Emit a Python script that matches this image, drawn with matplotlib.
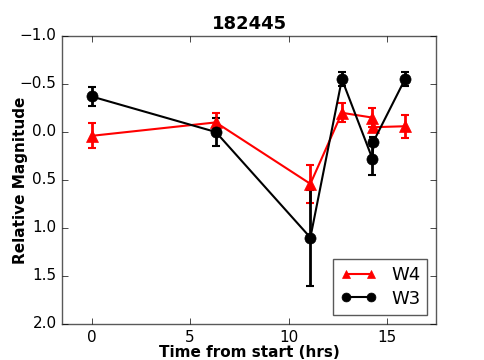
import matplotlib
matplotlib.use("Agg")
import matplotlib.pyplot as plt

plt.style.use("classic")

# W3 band (black circles)
w3_t = [0.0, 6.3, 11.1, 12.7, 14.25, 14.3, 15.9]
w3_mag = [-0.37, 0.0, 1.1, -0.55, 0.28, 0.1, -0.55]
w3_err = [0.1, 0.15, 0.5, 0.07, 0.17, 0.05, 0.07]

# W4 band (red triangles)
w4_t = [0.0, 6.3, 11.1, 12.7, 14.25, 14.3, 15.9]
w4_mag = [0.04, -0.1, 0.54, -0.2, -0.15, -0.05, -0.06]
w4_err = [0.13, 0.1, 0.2, 0.1, 0.1, 0.05, 0.12]

fig = plt.figure(figsize=(4.85, 3.6), dpi=100, facecolor="white")
ax = fig.add_axes([0.128, 0.1, 0.772, 0.8])

# error bars first, then lines/markers with the legend labels
ax.errorbar(w4_t, w4_mag, yerr=w4_err, fmt="none", ecolor="red",
            elinewidth=2, capsize=3, capthick=1.5)
ax.errorbar(w3_t, w3_mag, yerr=w3_err, fmt="none", ecolor="black",
            elinewidth=2, capsize=3, capthick=1.5)
ax.plot(w4_t, w4_mag, color="red", marker="^", markersize=8, mec="red",
        lw=1.5, label="W4")
ax.plot(w3_t, w3_mag, color="black", marker="o", markersize=8,
        lw=1.5, label="W3")

ax.set_xlim(-1.5, 17.5)
ax.set_ylim(2.0, -1.0)
ax.set_xticks([0, 5, 10, 15])
ax.set_yticks([-1.0, -0.5, 0.0, 0.5, 1.0, 1.5, 2.0])
ax.tick_params(labelsize=11)
for s in ax.spines.values():
    s.set_color("0.35")
ax.set_title("182445", fontsize=13, fontweight="bold")
ax.set_xlabel("Time from start (hrs)", fontsize=11, fontweight="bold", labelpad=0)
ax.set_ylabel("Relative Magnitude", fontsize=11, fontweight="bold")
ax.yaxis.set_label_coords(-0.09, 0.5)
leg = ax.legend(loc="lower right", numpoints=2, fontsize=13, markerscale=0.8,
                borderaxespad=0.5, labelspacing=0.3)
leg.get_frame().set_edgecolor("0.35")

fig.savefig("out.png", dpi=100, facecolor="white")
